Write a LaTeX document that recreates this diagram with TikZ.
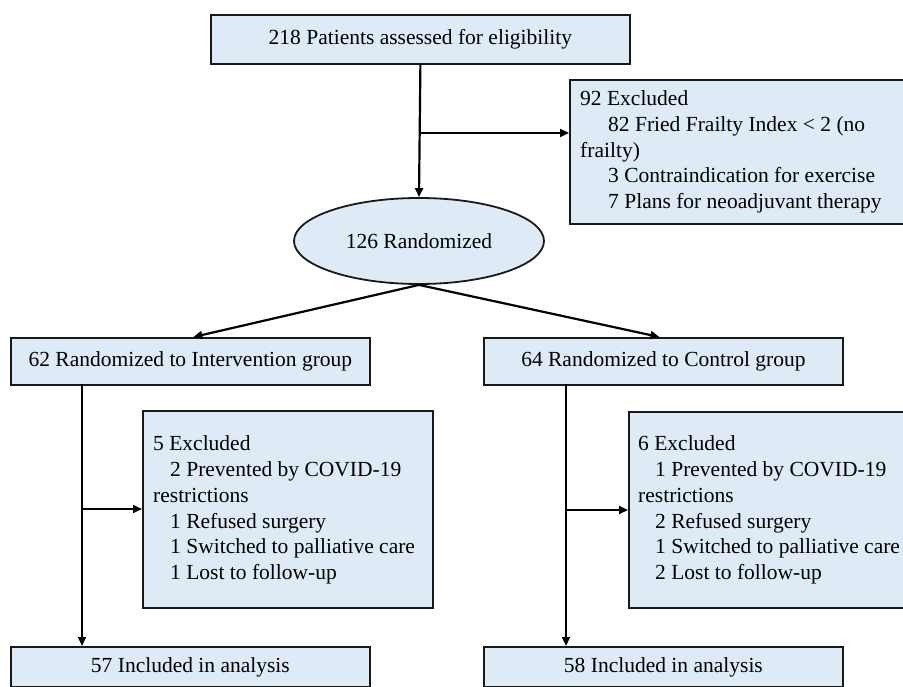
\documentclass[tikz,border=0pt]{standalone}
\usepackage{fontspec}
\setmainfont{Liberation Serif}
\usetikzlibrary{arrows.meta,shapes.geometric}
\definecolor{boxfill}{RGB}{222,234,246}
\definecolor{edge}{RGB}{25,25,25}
\tikzset{
  txt/.style={font=\fontsize{21.5}{25.7}\selectfont, inner sep=0pt},
  box/.style={draw=edge, fill=boxfill, line width=1.8pt, rectangle, inner sep=0pt, txt},
  frame/.style={box, anchor=north west},
  listtxt/.style={txt, anchor=west, align=left},
  conn/.style={draw=black, line width=2.2pt, -{Triangle[length=9pt,width=8pt]}}
}
\begin{document}
\begin{tikzpicture}[x=1pt,y=-1pt]
\useasboundingbox (0,0) rectangle (903,687);
\clip (0,0) rectangle (903,687);

\node[frame, minimum width=419pt, minimum height=49pt] (top) at (210,14)
  {218 Patients assessed for eligibility};

\node[frame, minimum width=346pt, minimum height=144pt] (exc1) at (569,79) {};
\node[listtxt] (exc1t) at (580,152)
  {92 Excluded\\
   \hspace*{28pt}82 Fried Frailty Index < 2 (no\\
   frailty)\\
   \hspace*{28pt}3 Contraindication for exercise\\
   \hspace*{28pt}7 Plans for neoadjuvant therapy};

\node[box, ellipse, minimum width=250pt, minimum height=86pt] (ell) at (419,241)
  {126 Randomized};

\node[frame, minimum width=359pt, minimum height=47pt] (left) at (10,337)
  {62 Randomized to Intervention group};
\node[frame, minimum width=359pt, minimum height=47pt] (right) at (483,337)
  {64 Randomized to Control group};

\node[frame, minimum width=290pt, minimum height=197pt] (exc2) at (142,410) {};
\node[listtxt] (exc2t) at (153,510)
  {5 Excluded\\
   \hspace*{17pt}2 Prevented by COVID-19\\
   restrictions\\
   \hspace*{17pt}1 Refused surgery\\
   \hspace*{17pt}1 Switched to palliative care\\
   \hspace*{17pt}1 Lost to follow-up};

\node[frame, minimum width=290pt, minimum height=196pt] (exc3) at (628,411) {};
\node[listtxt] (exc3t) at (638,510)
  {6 Excluded\\
   \hspace*{17pt}1 Prevented by COVID-19\\
   restrictions\\
   \hspace*{17pt}2 Refused surgery\\
   \hspace*{17pt}1 Switched to palliative care\\
   \hspace*{17pt}2 Lost to follow-up};

\node[frame, minimum width=359pt, minimum height=40pt] (bl) at (10,646)
  {57 Included in analysis};
\node[frame, minimum width=359pt, minimum height=40pt] (br) at (483,646)
  {58 Included in analysis};

% connectors
\coordinate (b1) at (419.5,133);
\draw[conn] (top.south) -- (ell.north);
\draw[conn] (b1) -- (b1 -| exc1.west);

\draw[conn] (ell.south) -- ([xshift=3pt]left.north);
\draw[conn] (ell.south) -- ([xshift=-4pt]right.north);

\coordinate (l1) at (82,384);
\coordinate (l2) at (82,509);
\draw[conn] (l1) -- (l1 |- bl.north);
\draw[conn] (l2) -- (l2 -| exc2.west);

\coordinate (r1) at (566,384);
\coordinate (r2) at (566,510);
\draw[conn] (r1) -- (r1 |- br.north);
\draw[conn] (r2) -- (r2 -| exc3.west);
\end{tikzpicture}
\end{document}
